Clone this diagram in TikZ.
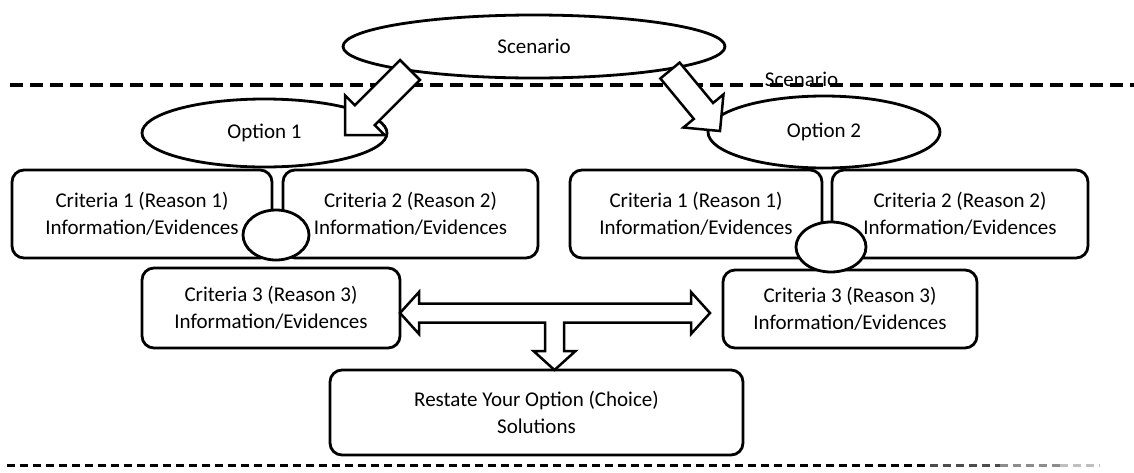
\documentclass[tikz,border=0pt]{standalone}
\usepackage{fontspec}
\setmainfont{Carlito}
\usetikzlibrary{shapes.geometric,calc}
\tikzset{
  lbl/.style={font=\fontsize{21}{26.5}\selectfont},
  box/.style={draw, line width=2.8pt, rounded corners=12pt, fill=white, align=center, inner sep=0pt, lbl},
  oval/.style={draw, ellipse, line width=2.8pt, fill=white, inner sep=0pt, lbl},
  barrow/.style={draw, line width=2.5pt, fill=white, line join=miter},
  topdash/.style={line width=3.2pt, dash pattern=on 13pt off 7pt},
  botdash/.style={line width=3pt, dash pattern=on 8pt off 5pt},
}
\newcommand{\blockarrow}[4]{%
  \coordinate (ba-b) at ($(#2)!#4!(#1)$);
  \draw[barrow] ($(#1)!#3!90:(#2)$) -- ($(ba-b)!#3!90:(#2)$) -- ($(ba-b)!#4!90:(#2)$) -- (#2)
    -- ($(ba-b)!#4!-90:(#2)$) -- ($(ba-b)!#3!-90:(#2)$) -- ($(#1)!#3!-90:(#2)$) -- cycle;}
\begin{document}
\begin{tikzpicture}[x=1pt,y=-1pt]
\useasboundingbox[fill=white] (0,0) rectangle (1134,472);

% dashed separators
\draw[topdash] (10,85) -- (1134,85);
\draw[botdash] (7,465) -- (930,465);
\draw[botdash, black!70] (930,465) -- (1000,465);
\draw[botdash, black!45] (1000,465) -- (1060,465);
\draw[botdash, black!25] (1060,465) -- (1100,465);

\node[lbl] (scen2) at (801.5,79) {Scenario};

% top ellipses
\node[oval, minimum width=382pt, minimum height=63pt] (scen) at (534,46.5) {Scenario};
\node[oval, minimum width=245pt, minimum height=68pt] (opt1) at (264.5,133) {Option 1};
\node[oval, minimum width=232pt, minimum height=72pt] (opt2) at (824,132) {Option 2};

% left group
\node[box, minimum width=260pt, minimum height=88pt] (c1L) at (142,214) {Criteria 1 (Reason 1)\\Information/Evidences};
\node[box, minimum width=255pt, minimum height=88pt] (c2L) at (410.5,214) {Criteria 2 (Reason 2)\\Information/Evidences};
\node[oval, minimum width=66pt, minimum height=50pt] (jL) at (276,235) {};
\node[box, minimum width=258pt, minimum height=80pt] (c3L) at (271,308) {Criteria 3 (Reason 3)\\Information/Evidences};

% right group
\node[box, minimum width=252pt, minimum height=88pt] (c1R) at (696,214) {Criteria 1 (Reason 1)\\Information/Evidences};
\node[box, minimum width=256pt, minimum height=88pt] (c2R) at (960,214) {Criteria 2 (Reason 2)\\Information/Evidences};
\node[box, minimum width=254pt, minimum height=78pt] (c3R) at (850,309) {Criteria 3 (Reason 3)\\Information/Evidences};
\node[oval, minimum width=70pt, minimum height=50pt] (jR) at (831,247) {};

% result
\node[box, minimum width=413pt, minimum height=85pt] (res) at (536.5,412.5) {Restate Your Option (Choice)\\Solutions};

% block arrows from Scenario to the options
\coordinate (a1t) at (410,70);
\coordinate (a1h) at (345,135);
\blockarrow{a1t}{a1h}{14pt}{28pt}
\coordinate (a2t) at (670,70.5);
\coordinate (a2h) at (720,131);
\blockarrow{a2t}{a2h}{12.5pt}{26pt}

% T-shaped block arrow joining both Criteria 3 boxes and the result
\coordinate (tl) at (400,313);
\coordinate (tr) at (710,313);
\coordinate (tb) at (554.5,370);
\draw[barrow] (tl) -- (419,292) -- (419,303.5) -- (691,303.5) -- (691,292) -- (tr)
  -- (691,334) -- (691,322.5) -- (564,322.5) -- (564,351) -- (575.5,351) -- (tb)
  -- (533.5,351) -- (545,351) -- (545,322.5) -- (419,322.5) -- (419,334) -- cycle;
\end{tikzpicture}
\end{document}
